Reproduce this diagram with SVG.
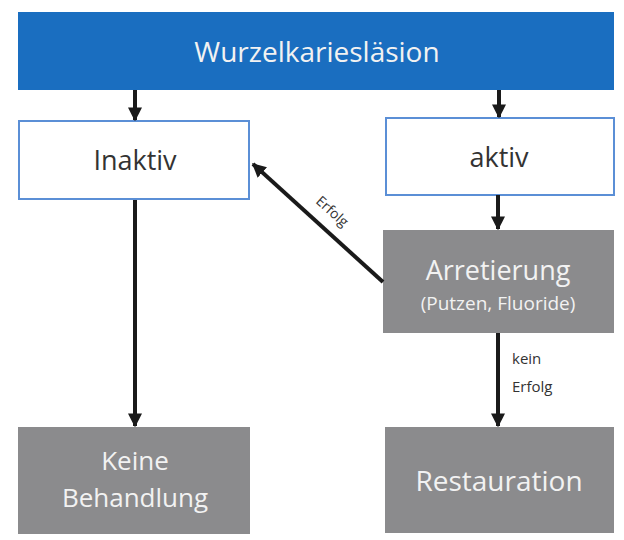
<svg xmlns="http://www.w3.org/2000/svg" width="624" height="540" viewBox="0 0 624 540">
<defs>
<style>
text{font-family:"Open Sans","Liberation Sans",sans-serif;text-anchor:middle}
.blue{fill:#1a6ec0}
.white{fill:#fff;stroke:#5b8fd6;stroke-width:2}
.gray{fill:#8b8b8d}
.lt{fill:#f2f2f2}
.dk{fill:#333}
.c{stroke:#1a1a1a;stroke-width:4;fill:none;marker-end:url(#ah)}
</style>
<marker id="ah" viewBox="0 0 10 10" refX="9" refY="5" markerWidth="3.5" markerHeight="3.5" orient="auto" markerUnits="strokeWidth">
<path d="M0,0 L10,5 L0,10 z" fill="#1a1a1a"/>
</marker>
</defs>
<rect width="624" height="540" fill="#fff"/>
<g id="n-wurzel"><rect class="blue" x="18" y="12" width="596" height="78"/><text class="lt" x="317" y="62" font-size="28">Wurzelkariesläsion</text></g>
<g id="n-inaktiv"><rect class="white" x="19" y="121" width="230" height="78"/><text class="dk" x="135" y="170" font-size="27">Inaktiv</text></g>
<g id="n-aktiv"><rect class="white" x="386" y="118" width="228" height="77"/><text class="dk" x="499" y="167" font-size="27">aktiv</text></g>
<g id="n-arret"><rect class="gray" x="383" y="230" width="231" height="103"/><text class="lt" x="498" y="280" font-size="27">Arretierung</text><text class="lt" x="498" y="310" font-size="19">(Putzen, Fluoride)</text></g>
<g id="n-keine"><rect class="gray" x="18" y="427" width="232" height="107"/><text class="lt" x="135" y="470" font-size="26">Keine</text><text class="lt" x="135" y="507" font-size="26">Behandlung</text></g>
<g id="n-rest"><rect class="gray" x="385" y="427" width="229" height="106"/><text class="lt" x="499" y="491" font-size="28">Restauration</text></g>
<g id="connectors">
<line class="c" x1="135" y1="90" x2="135" y2="120"/>
<line class="c" x1="499" y1="90" x2="499" y2="117"/>
<line class="c" x1="498" y1="195" x2="498" y2="229"/>
<line class="c" x1="135" y1="200" x2="135" y2="426"/>
<line class="c" x1="498" y1="333" x2="498" y2="426"/>
<line class="c" x1="383" y1="282" x2="253" y2="164"/>
<text class="dk" font-size="14" transform="translate(329,215) rotate(42)">Erfolg</text>
<text class="dk" font-size="15" x="512" y="364" style="text-anchor:start">kein</text>
<text class="dk" font-size="15" x="512" y="392" style="text-anchor:start">Erfolg</text>
</g>
</svg>
